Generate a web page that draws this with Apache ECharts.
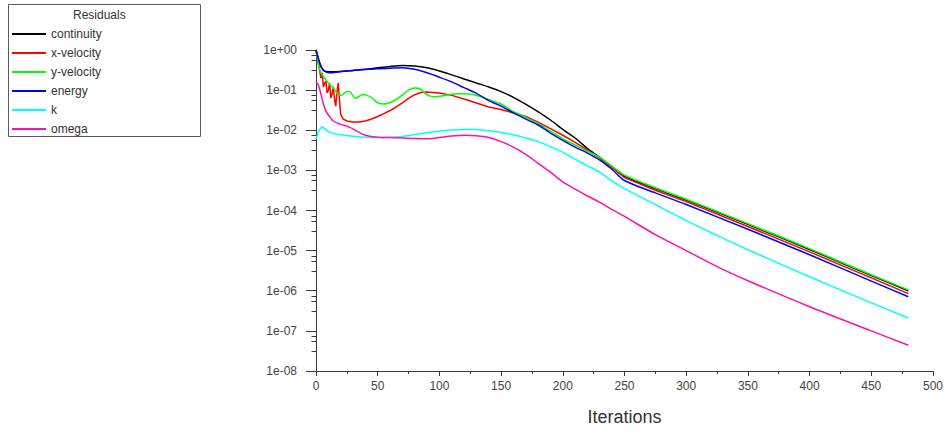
<!DOCTYPE html>
<html>
<head>
<meta charset="utf-8">
<script src="https://cdn.jsdelivr.net/npm/echarts@6/dist/echarts.min.js"></script>
<style>
html,body{margin:0;padding:0;background:#fff;}
#chart{width:946px;height:431px;}
</style>
</head>
<body>
<div id="chart"></div>
<script>
// ---- data ----
const seriesNames = ['continuity', 'x-velocity', 'y-velocity', 'energy', 'k', 'omega'];

const continuityIter = [0,2,4,6,8,12,20,30,40,50,60,70,80,90,100,110,120,130,140,150,160,175,190,200,210,220,225,230,240,250,275,300,350,400,450,480];
const continuityVal  = [1.0,0.6,0.4,0.31,0.29,0.285,0.29,0.31,0.33,0.36,0.39,0.41,0.40,0.36,0.30,0.24,0.19,0.15,0.12,0.092,0.066,0.036,0.018,0.0105,0.0064,0.0035,0.0027,0.0021,0.0012,7.1e-4,3.5e-4,1.82e-4,4.5e-5,1.07e-5,2.4e-6,1.0e-6];

const xVelIter = [0,1,2,3,4,5,6,7,8,9,10,11,12,13,14,15,16,17,18,19,20,22,25,30,35,40,45,50,55,60,65,70,75,80,85,90,100,110,120,130,140,150,160,170,180,190,200,210,220,230,240,250,275,300,350,400,450,480];
const xVelVal  = [1.0,0.6,0.43,0.3,0.2,0.27,0.12,0.15,0.165,0.085,0.1,0.15,0.064,0.08,0.12,0.06,0.04,0.09,0.15,0.06,0.025,0.019,0.017,0.016,0.016,0.017,0.019,0.022,0.026,0.031,0.038,0.048,0.062,0.077,0.087,0.09,0.085,0.074,0.06,0.048,0.038,0.033,0.027,0.022,0.016,0.011,0.0075,0.005,0.0032,0.002,0.00117,6.6e-4,3.2e-4,1.66e-4,4.0e-5,9.3e-6,2.1e-6,8.5e-7];

const yVelIter = [0,1,3,5,7,10,14,18,21,24,27,29,32,35,38,41,45,50,55,60,65,70,75,80,84,88,92,97,104,112,120,128,135,142,150,160,170,180,190,200,210,220,230,240,250,275,300,350,400,450,480];
const yVelVal  = [1.0,0.7,0.32,0.24,0.2,0.15,0.113,0.078,0.075,0.089,0.092,0.08,0.062,0.07,0.078,0.075,0.065,0.048,0.045,0.049,0.058,0.075,0.1,0.113,0.11,0.085,0.072,0.068,0.073,0.08,0.081,0.077,0.066,0.055,0.045,0.029,0.021,0.0145,0.0095,0.0062,0.0043,0.003,0.0021,0.00126,7.6e-4,3.7e-4,1.9e-4,4.7e-5,1.12e-5,2.5e-6,1.05e-6];

const energyIter = [0,2,4,7,10,15,20,30,40,50,60,70,80,90,100,110,120,130,140,150,160,170,180,190,200,210,220,230,240,250,275,300,350,400,450,480];
const energyVal  = [1.0,0.6,0.38,0.3,0.27,0.275,0.29,0.31,0.325,0.34,0.35,0.36,0.33,0.27,0.21,0.16,0.115,0.083,0.055,0.04,0.027,0.019,0.0135,0.0085,0.0056,0.0038,0.0027,0.0018,0.00105,5.6e-4,2.75e-4,1.41e-4,3.4e-5,7.9e-6,1.74e-6,7.1e-7];

const kIter = [0,2,5,7,10,15,20,30,40,50,60,70,80,90,100,110,120,130,140,150,160,170,180,190,200,210,220,230,240,250,275,300,325,350,400,450,480];
const kVal  = [0.006,0.009,0.012,0.011,0.0092,0.0082,0.0077,0.0071,0.0067,0.0066,0.0067,0.007,0.0078,0.0087,0.0095,0.0102,0.0105,0.0104,0.0097,0.0088,0.0077,0.0064,0.0052,0.0039,0.0028,0.0019,0.0013,9e-4,5.4e-4,3.5e-4,1.4e-4,5.6e-5,2.4e-5,1.05e-5,2.24e-6,5.0e-7,2.1e-7];

const omegaIter = [0,2,4,6,8,11,14,20,27,33,40,50,60,70,80,90,100,110,120,130,140,150,160,170,180,190,200,210,220,230,240,250,275,300,325,350,400,450,480];
const omegaVal  = [0.165,0.13,0.08,0.045,0.03,0.022,0.017,0.014,0.012,0.0095,0.0075,0.0067,0.0066,0.0064,0.0062,0.0061,0.0066,0.0072,0.0075,0.0073,0.0066,0.0052,0.0038,0.0025,0.0015,9e-4,5.2e-4,3.4e-4,2.3e-4,1.6e-4,1.05e-4,7.1e-5,2.5e-5,1.0e-5,4.0e-6,1.78e-6,4.0e-7,1.0e-7,4.4e-8];

const yMinExp = -8, yMaxExp = 0;
const minorTickFractions = [0.5, 0.75, 0.875]; // position inside each decade (log space)
const xTickInterval = 50;

// ---- build ----
const colors = ['#000000', '#ff0000', '#00ff00', '#0000ff', '#00ffff', '#ff10a8'];
const iters = [continuityIter, xVelIter, yVelIter, energyIter, kIter, omegaIter];
const vals = [continuityVal, xVelVal, yVelVal, energyVal, kVal, omegaVal];

const minorTickValues = [];
for (let n = yMinExp; n < yMaxExp; n++) {
  minorTickFractions.forEach(f => minorTickValues.push(Math.pow(10, n + f)));
}

const font = "'Liberation Sans', Arial, sans-serif";
const axisColor = '#3a3a3a';

function fmtExp(v) {
  const e = Math.round(Math.log10(v));
  return '1e' + (e < 0 ? '-' : '+') + String(Math.abs(e)).padStart(2, '0');
}

const chart = echarts.init(document.getElementById('chart'), null, {renderer: 'svg'});
const grid = {left: 316, top: 50, width: 617, height: 324};

const allSeries = seriesNames.map((name, i) => ({
  name: name,
  type: 'line',
  symbol: 'none',
  smooth: i === 1 ? false : 0.3,
  color: colors[i],
  lineStyle: {width: 1.5, color: colors[i]},
  data: iters[i].map((x, j) => [x, vals[i][j]]),
  z: 3
}));

const legendBox = [
  {type: 'rect', left: 8, top: 4, shape: {width: 192, height: 132},
   style: {fill: '#ffffff', stroke: '#5a5a5a', lineWidth: 1}, z: 0},
  {type: 'text', left: 73, top: 9, style: {text: 'Residuals', fill: '#333333', font: "12px 'Liberation Sans', Arial, sans-serif"}, z: 10}
];

chart.setOption({
  animation: false,
  backgroundColor: '#ffffff',
  textStyle: {fontFamily: font},
  grid: grid,
  graphic: legendBox,
  legend: {
    orient: 'vertical',
    left: 7, top: 23,
    icon: 'rect',
    itemWidth: 34, itemHeight: 2, itemGap: 7,
    textStyle: {fontSize: 12, color: '#333333', fontFamily: font},
    data: seriesNames,
    z: 10
  },
  xAxis: {
    type: 'value', min: 0, max: 500, interval: xTickInterval,
    name: 'Iterations', nameLocation: 'middle', nameGap: 37,
    nameTextStyle: {fontSize: 18, color: '#333333', fontFamily: font},
    axisLine: {onZero: false, lineStyle: {color: axisColor, width: 1}},
    axisTick: {length: 5, lineStyle: {color: axisColor}},
    minorTick: {show: true, splitNumber: 2, length: 3, lineStyle: {color: axisColor}},
    axisLabel: {fontSize: 12, color: '#444444', margin: 9, fontFamily: font},
    splitLine: {show: false}
  },
  yAxis: {
    type: 'log', logBase: 10, min: Math.pow(10, yMinExp), max: Math.pow(10, yMaxExp), position: 'left',
    axisLine: {show: true, lineStyle: {color: axisColor, width: 1}},
    axisTick: {show: true, length: 10, lineStyle: {color: axisColor}},
    axisLabel: {fontSize: 12, color: '#444444', margin: 19, fontFamily: font, formatter: fmtExp},
    splitLine: {show: false}
  },
  series: allSeries
});

// minor ticks of the log y axis: positions come from the chart's own axis scale
const minorTickGraphics = minorTickValues.map(v => {
  const p = chart.convertToPixel({xAxisIndex: 0, yAxisIndex: 0}, [0, v]);
  const x = Math.round(p[0]) + 0.5;
  const y = Math.round(p[1]) + 0.5;
  return {
    type: 'line', silent: true, z: 20,
    shape: {x1: x - 5, y1: y, x2: x, y2: y},
    style: {stroke: axisColor, lineWidth: 1}
  };
});
chart.setOption({graphic: legendBox.concat(minorTickGraphics)}, {replaceMerge: ['graphic']});
</script>
</body>
</html>
